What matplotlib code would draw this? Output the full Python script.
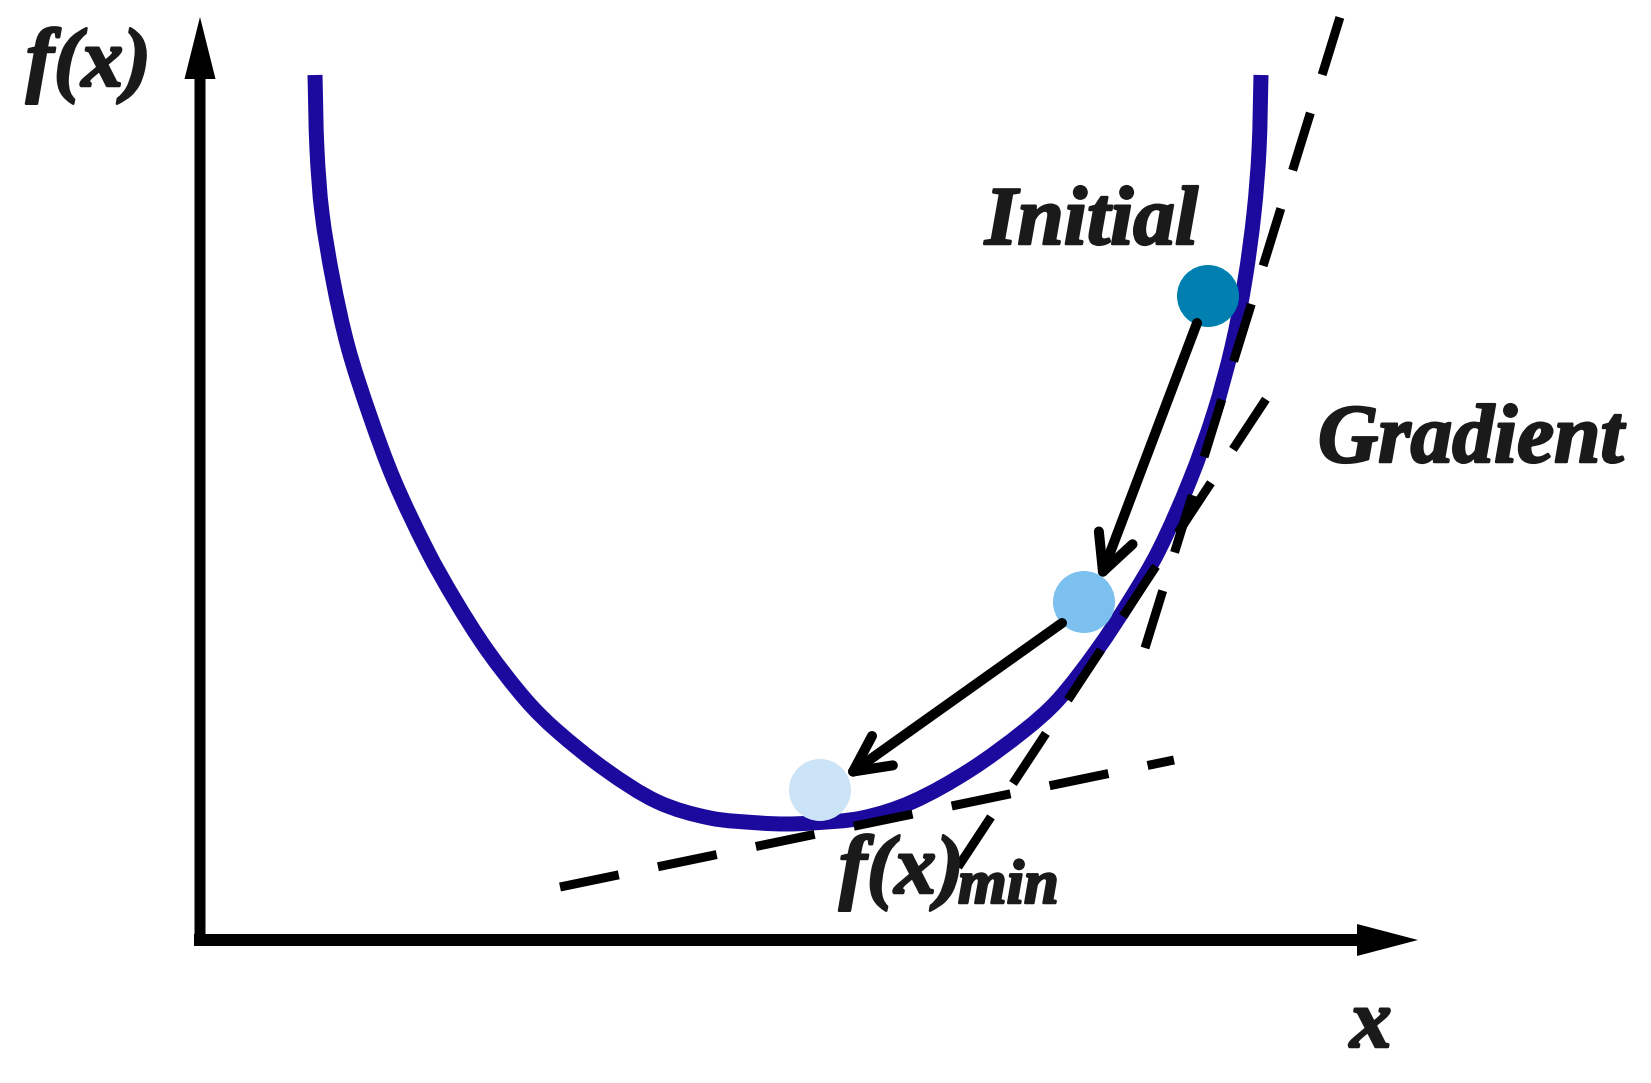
import math
import matplotlib
matplotlib.use("Agg")
from matplotlib import pyplot as plt
from matplotlib import patheffects
from matplotlib.path import Path
from matplotlib.patches import FancyArrowPatch, ArrowStyle, PathPatch

# everything is in picture coordinates (pixels, y grows downward)
curve_x = [315, 317, 322, 333, 348, 369, 394, 427, 455, 487, 526, 556, 606, 658, 710, 760,
           786,
           812, 862, 912, 970, 1025, 1058, 1097, 1130, 1159, 1190, 1214, 1232, 1245, 1254, 1259, 1261]
curve_y = [75, 150, 213, 280, 347, 413, 480, 550, 600, 650, 700, 730, 770, 802, 818, 823,
           824,
           823, 818, 802, 770, 730, 700, 650, 600, 550, 480, 413, 347, 280, 213, 150, 75]

point_x = [1208, 1084, 820]
point_y = [296, 602, 790]
point_colors = ["#0080b0", "#7cc0f0", "#cbe3f7"]

# gradient steps: start -> end
step_start = [(1197, 323), (1062, 623)]
step_end = [(1099, 582), (844, 778)]

# dashed tangents, each drawn from the end where a dash starts
tangent_start = [(560, 887), (958, 867), (1145, 648)]
tangent_end = [(1174, 760), (1272, 390), (1340, 17)]

labels = ["f(x)", "Initial", "Gradient", "f(x)", "x"]
label_x = [26, 985, 1318, 839, 1350]
label_y = [86, 244, 462, 893, 1047]
sub_label = "min"
sub_x, sub_y = 958, 903

W, H = 1651, 1083
TEXT = "#1a1a1a"
FONT = dict(family="Liberation Serif", weight="bold", style="italic", color=TEXT)


def px(v):
    # pixels -> points at dpi 100
    return v * 0.72


def smooth_path(xs, ys):
    # bezier segments through the read points, tangents from the neighbours
    pts = list(zip(xs, ys))
    n = len(pts)
    dirs = []
    for i in range(n):
        a = pts[max(i - 1, 0)]
        b = pts[min(i + 1, n - 1)]
        dx, dy = b[0] - a[0], b[1] - a[1]
        d = math.hypot(dx, dy)
        dirs.append((dx / d, dy / d))
    verts = [pts[0]]
    codes = [Path.MOVETO]
    for i in range(n - 1):
        p1, p2 = pts[i], pts[i + 1]
        L = math.hypot(p2[0] - p1[0], p2[1] - p1[1]) / 3
        c1 = (p1[0] + dirs[i][0] * L, p1[1] + dirs[i][1] * L)
        c2 = (p2[0] - dirs[i + 1][0] * L, p2[1] - dirs[i + 1][1] * L)
        verts += [c1, c2, p2]
        codes += [Path.CURVE4] * 3
    return Path(verts, codes)


def main():
    fig = plt.figure(figsize=(W / 100, H / 100), dpi=100)
    ax = fig.add_axes([0, 0, 1, 1])
    ax.set_xlim(0, W)
    ax.set_ylim(H, 0)
    ax.axis("off")

    # axes with arrow heads
    ax.arrow(200, 946, 0, -929, width=11, head_width=31, head_length=62,
             length_includes_head=True, color="black", lw=0, zorder=1)
    ax.arrow(194, 940, 1224, 0, width=12, head_width=32, head_length=61,
             length_includes_head=True, color="black", lw=0, zorder=1)

    curve = PathPatch(smooth_path(curve_x, curve_y), fill=False, edgecolor="#1c0a9e",
                      lw=px(15), capstyle="butt", joinstyle="round", zorder=2)
    ax.add_patch(curve)

    lw = px(9)
    dash = (0, (px(60) / lw, px(40) / lw))
    for (x0, y0), (x1, y1) in zip(tangent_start, tangent_end):
        ax.plot([x0, x1], [y0, y1], color="black", lw=lw, linestyle=dash,
                dash_capstyle="butt", zorder=3)

    ax.scatter(point_x, point_y, s=px(62) ** 2, c=point_colors,
               edgecolors="none", zorder=4)

    style = ArrowStyle("->", head_length=px(36), head_width=px(18))
    for a, b in zip(step_start, step_end):
        arr = FancyArrowPatch(a, b, arrowstyle=style, mutation_scale=1,
                              lw=px(10), color="black", shrinkA=0, shrinkB=0,
                              capstyle="round", joinstyle="round", zorder=5)
        ax.add_patch(arr)

    heavy = [patheffects.withStroke(linewidth=1.8, foreground=TEXT)]
    for t, x, y in zip(labels, label_x, label_y):
        ax.text(x, y, t, fontsize=60, va="baseline", ha="left", zorder=6,
                path_effects=heavy, **FONT)
    ax.text(sub_x, sub_y, sub_label, fontsize=45, va="baseline", ha="left",
            zorder=6, path_effects=heavy, **FONT)

    fig.savefig("out.png", dpi=100)


if __name__ == '__main__':
    main()
